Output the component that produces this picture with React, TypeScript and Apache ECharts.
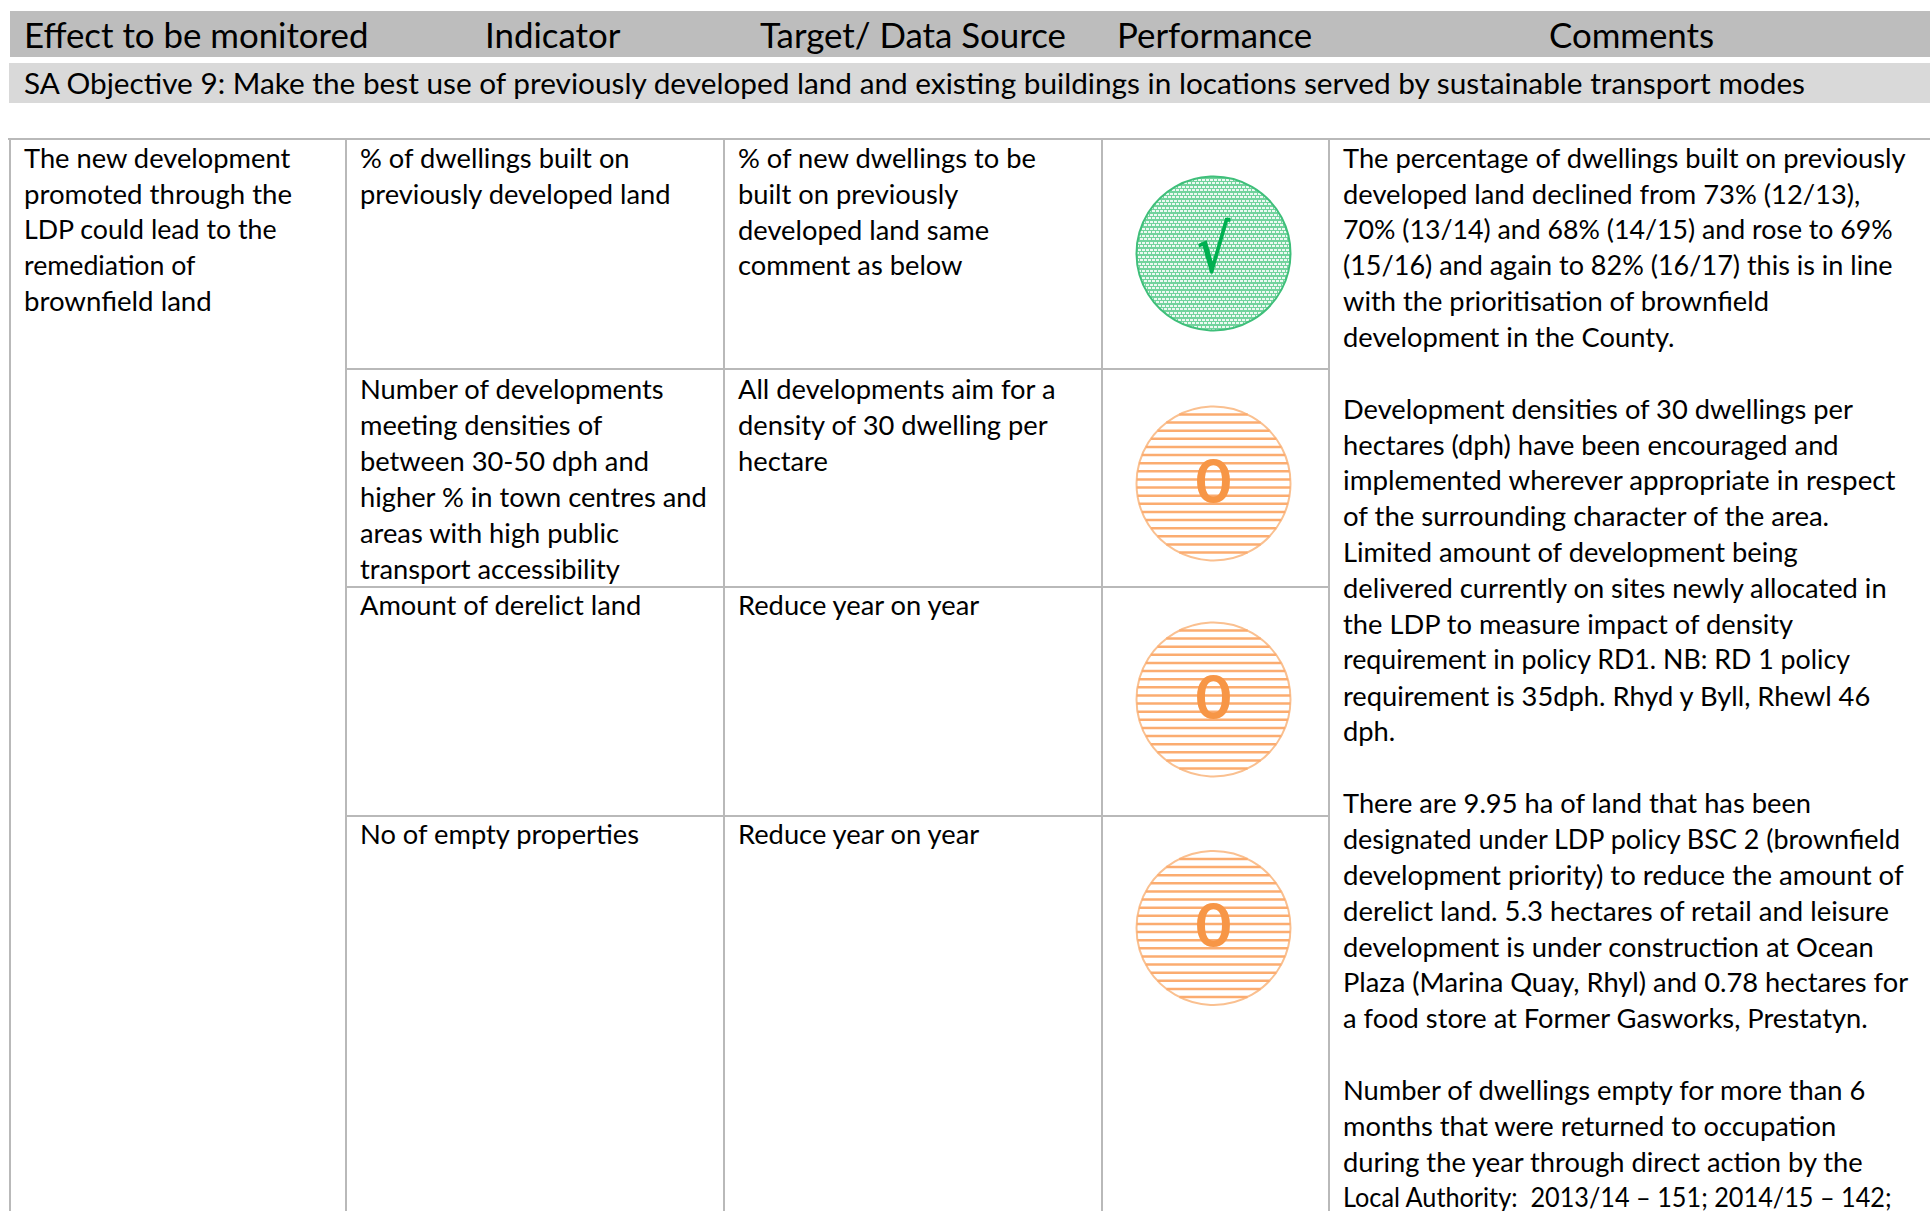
import React, { useEffect, useRef } from "react";
import * as echarts from "echarts";

const headerLabels = ["Effect to be monitored", "Indicator", "Target/ Data Source", "Performance", "Comments"];
const objectiveLine = "SA Objective 9: Make the best use of previously developed land and existing buildings in locations served by sustainable transport modes";
const effectLines = ["The new development", "promoted through the", "LDP could lead to the", "remediation of", "brownfield land"];
const indicatorRows = [
  ["% of dwellings built on", "previously developed land"],
  ["Number of developments", "meeting densities of", "between 30-50 dph and", "higher % in town centres and", "areas with high public", "transport accessibility"],
  ["Amount of derelict land"],
  ["No of empty properties"],
];
const targetRows = [
  ["% of new dwellings to be", "built on previously", "developed land same", "comment as below"],
  ["All developments aim for a", "density of 30 dwelling per", "hectare"],
  ["Reduce year on year"],
  ["Reduce year on year"],
];
const performanceMarks = ["√", "0", "0", "0"];
const commentParagraphs = [
  ["The percentage of dwellings built on previously", "developed land declined from 73% (12/13),", "70% (13/14) and 68% (14/15) and rose to 69%", "(15/16) and again to 82% (16/17) this is in line", "with the prioritisation of brownfield", "development in the County."],
  ["Development densities of 30 dwellings per", "hectares (dph) have been encouraged and", "implemented wherever appropriate in respect", "of the surrounding character of the area.", "Limited amount of development being", "delivered currently on sites newly allocated in", "the LDP to measure impact of density", "requirement in policy RD1. NB: RD 1 policy", "requirement is 35dph. Rhyd y Byll, Rhewl 46", "dph."],
  ["There are 9.95 ha of land that has been", "designated under LDP policy BSC 2 (brownfield", "development priority) to reduce the amount of", "derelict land. 5.3 hectares of retail and leisure", "development is under construction at Ocean", "Plaza (Marina Quay, Rhyl) and 0.78 hectares for", "a food store at Former Gasworks, Prestatyn."],
  ["Number of dwellings empty for more than 6", "months that were returned to occupation", "during the year through direct action by the", "Local Authority:  2013/14 – 151; 2014/15 – 142;"],
];

const W = 1930, H = 1211;
const FONT = "Lato";
const GREY = "#b9b9b9";
const ORANGE = "#f79646";
const GREEN = "#00b050";
const colX = [10, 346, 724, 1102, 1329];
const rowY = [139, 369, 587, 816];
const rowTextPad = [5, 6.5, 4.5, 4.5];
const circleY = [253.5, 483.5, 699.5, 928];
const circleX = 1213.5, R = 77;
const LH = 35.85;
const BODY = 26.5, BODY_SX = 1.03;
// Lato's digits and dashes run wider than the reference face, so these lines get a small width correction.
const lineFit: Record<string, number> = {
  "70% (13/14) and 68% (14/15) and rose to 69%": 0.98,
  "(15/16) and again to 82% (16/17) this is in line": 0.989,
  "implemented wherever appropriate in respect": 1.016,
  "of the surrounding character of the area.": 1.01,
  "requirement in policy RD1. NB: RD 1 policy": 0.981,
  "designated under LDP policy BSC 2 (brownfield": 0.987,
  "development priority) to reduce the amount of": 1.011,
  "derelict land. 5.3 hectares of retail and leisure": 1.009,
  "Local Authority:  2013/14 – 151; 2014/15 – 142;": 0.925,
  "promoted through the": 1.012,
  "LDP could lead to the": 0.98,
  "remediation of": 0.98,
  "brownfield land": 1.012,
};

function txt(s: string, x: number, y: number, size: number, sx: number, fill = "#000") {
  return { type: "text", x, y, scaleX: sx * (lineFit[s] ?? 1), silent: true, style: { text: s, x: 0, y: 0, fill, font: `${size}px ${FONT}`, align: "left", verticalAlign: "top" } };
}
function ln(x1: number, y1: number, x2: number, y2: number, color = GREY, w = 2) {
  return { type: "line", silent: true, shape: { x1, y1, x2, y2 }, style: { stroke: color, lineWidth: w } };
}
function dotPattern() {
  const c = document.createElement("canvas");
  c.width = 4; c.height = 7;
  const g = c.getContext("2d")!;
  g.fillStyle = "#72d39d"; g.fillRect(0, 0, 4, 7);
  g.fillStyle = "#ecf9f2";
  g.fillRect(0, 0, 3, 2);
  g.fillRect(2, 4, 2, 2); g.fillRect(0, 4, 1, 2);
  return { image: c, repeat: "repeat" };
}

function buildElements() {
  const els: any[] = [];
  els.push({ type: "rect", silent: true, shape: { x: 10, y: 11, width: W - 10, height: 46 }, style: { fill: "#bdbdbd" } });
  els.push({ type: "rect", silent: true, shape: { x: 9, y: 63, width: W - 9, height: 40 }, style: { fill: "#d9d9d9" } });
  const hx = [24, 485, 760, 1117, 1549];
  headerLabels.forEach((h, i) => els.push(txt(h, hx[i], 18, 34, 1.025)));
  els.push(txt(objectiveLine, 24, 68, 28.5, 1.045));

  els.push(ln(8, 139, W, 139));
  colX.forEach((x) => els.push(ln(x, 139, x, H)));
  rowY.slice(1).forEach((y) => els.push(ln(colX[1], y, colX[4], y)));

  effectLines.forEach((s, i) => els.push(txt(s, 24, 144 + i * LH, BODY, BODY_SX)));
  indicatorRows.forEach((rows, r) => rows.forEach((s, i) => els.push(txt(s, 360, rowY[r] + rowTextPad[r] + i * LH, BODY, BODY_SX))));
  targetRows.forEach((rows, r) => rows.forEach((s, i) => els.push(txt(s, 738, rowY[r] + rowTextPad[r] + i * LH, BODY, BODY_SX))));

  performanceMarks.forEach((m, i) => {
    const cy = circleY[i];
    if (m === "√") {
      els.push({ type: "circle", silent: true, shape: { cx: circleX, cy, r: R }, style: { fill: dotPattern(), stroke: "#3fbf7a", lineWidth: 2 } });
      els.push({ type: "text", x: circleX, y: cy - 38, scaleX: 0.78, silent: true, style: { text: m, x: 0, y: 0, fill: GREEN, font: "bold 66px 'DejaVu Serif'", align: "center", verticalAlign: "top" } });
    } else {
      els.push({ type: "circle", silent: true, shape: { cx: circleX, cy, r: R }, style: { fill: "#fff", stroke: "#fac090", lineWidth: 2 } });
      for (let k = 0; k < 18; k++) {
        const y = -69 + k * 8.12;
        const half = Math.sqrt(R * R - y * y);
        els.push(ln(circleX - half, cy + y, circleX + half, cy + y, "#fbac70", 2.5));
      }
      els.push({ type: "text", x: circleX, y: cy - 36, scaleX: 1, silent: true, style: { text: m, x: 0, y: 0, fill: ORANGE, font: "bold 62px Lato", align: "center", verticalAlign: "top" } });
    }
  });

  let n = 0;
  commentParagraphs.forEach((p) => {
    p.forEach((s) => {
      els.push(txt(s, 1343, 144 + n * LH, BODY, BODY_SX));
      n++;
    });
    n++;
  });
  return els;
}

export default function App() {
  const ref = useRef<HTMLDivElement>(null);
  useEffect(() => {
    document.body.style.margin = "0";
    const chart = echarts.init(ref.current!, undefined, { renderer: "svg" });
    chart.setOption({ animation: false, backgroundColor: "#fff", graphic: { elements: buildElements() } });
    return () => chart.dispose();
  }, []);
  return <div ref={ref} style={{ width: W, height: H }} />;
}
